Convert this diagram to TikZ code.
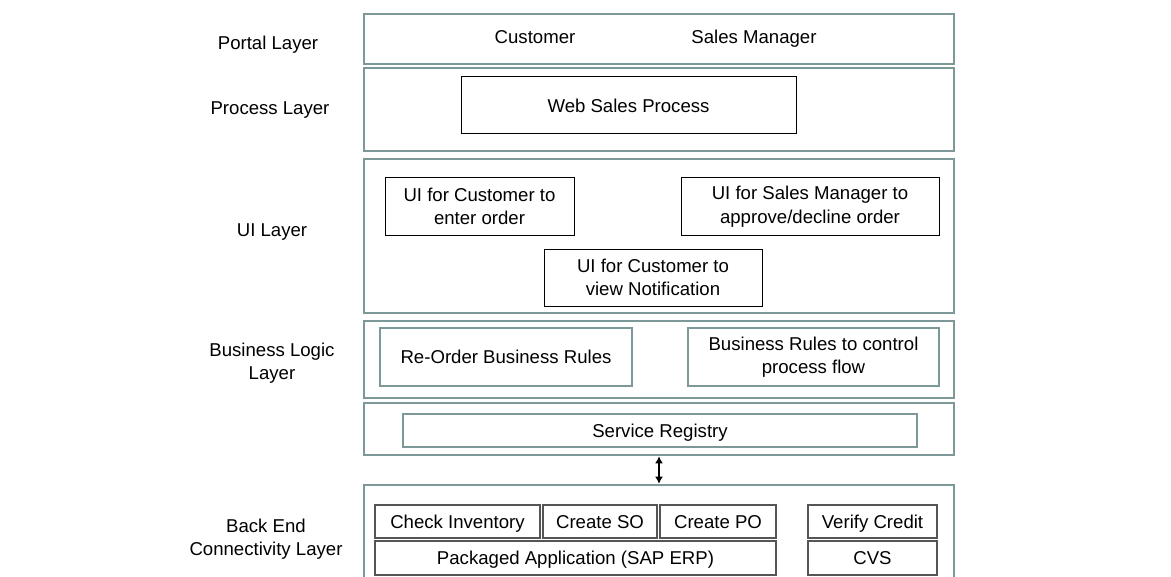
\documentclass[tikz,border=0pt]{standalone}
\usepackage{fontspec}
\setmainfont{Liberation Sans}
\usepackage{tikz}
\usetikzlibrary{arrows.meta}

\definecolor{layerteal}{RGB}{124,152,152}
\definecolor{begray}{RGB}{85,85,85}

\tikzset{
  layer/.style={draw=layerteal, line width=1.3pt, minimum width=295pt, inner sep=0pt},
  uibox/.style={draw=black, line width=0.5pt, inner sep=0pt, align=center},
  rulebox/.style={draw=layerteal, line width=1.1pt, inner sep=0pt, align=center},
  bebox/.style={draw=begray, line width=0.55pt, inner sep=0pt, minimum height=16.5pt, align=center, oneline},
  lbl/.style={inner sep=0pt, align=center},
  oneline/.style={text height=0.72em, text depth=0.04em}
}

\begin{document}
\begin{tikzpicture}[x=0.5pt, y=-0.5pt, font=\fontsize{9.3pt}{11.8pt}\selectfont]
                \useasboundingbox (0,0) rectangle (1171,577);
                \clip (0,0) rectangle (1171,577);
                % layers
                \node[layer, minimum height=25pt] (portal) at (659,39) {};
                \node[layer, minimum height=41.5pt] (process) at (659,109.5) {};
                \node[layer, minimum height=77pt] (ui) at (659,236) {};
                \node[layer, minimum height=38.5pt] (logic) at (659,359.5) {};
                \node[layer, minimum height=26pt] (registry) at (659,429) {};
                \node[layer, minimum height=60pt] (backend) at (659,545) {};
                % layer names
                \node[lbl, oneline] (portallbl) at (268,43) {Portal Layer};
                \node[lbl, oneline] (processlbl) at (270,108) {Process Layer};
                \node[lbl, oneline] (uilbl) at (272,230) {UI Layer};
                \node[lbl] (logiclbl) at (272,363) {Business Logic\\Layer};
                \node[lbl] (backendlbl) at (266,539) {Back End\\Connectivity Layer};
                % portal
                \node[lbl, oneline] (customer) at (535,37) {Customer};
                \node[lbl, oneline] (salesmgr) at (754,37) {Sales Manager};
                % process
                \node[uibox, oneline, minimum width=167.5pt, minimum height=28.5pt] (websales) at (628.5,105.5) {Web Sales Process};
                % ui
                \node[uibox, minimum width=94.5pt, minimum height=28.5pt] (uienter) at (479.5,206.5) {UI for Customer to\\enter order};
                \node[uibox, minimum width=129pt, minimum height=28.5pt] (uiapprove) at (810,206.5) {UI for Sales Manager to\\approve/decline order};
                \node[uibox, minimum width=109pt, minimum height=28.5pt] (uinotify) at (653,277.5) {UI for Customer to\\view Notification};
                % business logic
                \node[rulebox, oneline, minimum width=126pt, minimum height=29pt] (reorder) at (506,357) {Re-Order Business Rules};
                \node[rulebox, minimum width=125.5pt, minimum height=29pt] (flowrules) at (813.5,357) {Business Rules to control\\process flow};
                % service registry
                \node[rulebox, oneline, minimum width=257pt, minimum height=16.5pt] (servreg) at (660,430.5) {Service Registry};
                \draw[{Latex[length=3.5pt,width=4pt]}-{Latex[length=3.5pt,width=4pt]}, line width=0.9pt] (registry.south) -- (backend.north);
                % back end
                \node[bebox, minimum width=82.5pt] (checkinv) at (457.5,521.5) {Check Inventory};
                \node[bebox, minimum width=57pt] (createso) at (600,521.5) {Create SO};
                \node[bebox, minimum width=58pt] (createpo) at (718,521.5) {Create PO};
                \node[bebox, minimum width=64.5pt] (verify) at (872.5,521.5) {Verify Credit};
                \node[bebox, minimum width=200.5pt, minimum height=17pt] (sap) at (575.5,558) {Packaged Application (SAP ERP)};
                \node[bebox, minimum width=64.5pt, minimum height=17pt] (cvs) at (872.5,558) {CVS};
            \end{tikzpicture}
\end{document}
